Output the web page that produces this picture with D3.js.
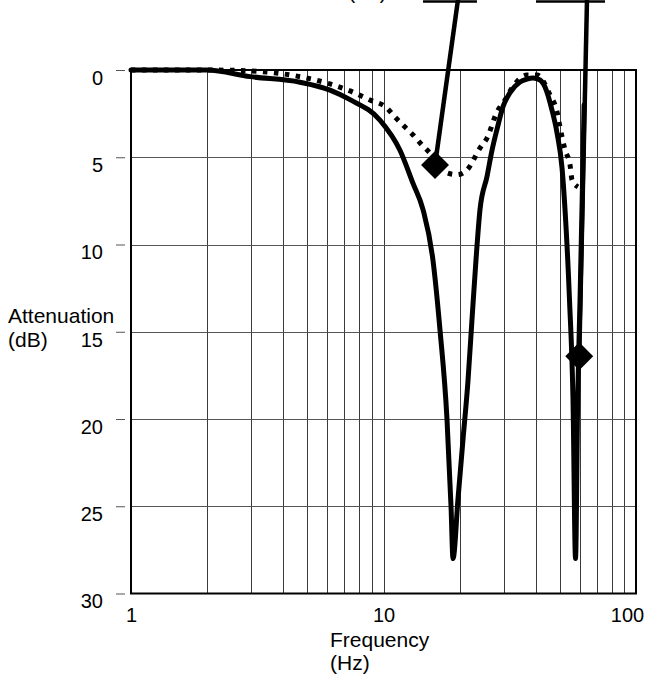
<!DOCTYPE html>
<html>
<head>
<meta charset="utf-8">
<script src="https://cdnjs.cloudflare.com/ajax/libs/d3/7.8.5/d3.min.js"></script>
<style>
  html, body { margin: 0; padding: 0; background: #fff; }
  svg { display: block; }
  text { font-family: 'Liberation Sans', Arial, sans-serif; fill: #000; }
</style>
</head>
<body>
<div id="canvas"></div>
<script>
// tick labels
var xTicks = [1, 10, 100]
var yTicks = [0, 5, 10, 15, 20, 25, 30]

// solid curve (Hz, dB)
var freqSolid = [1, 2, 2.96, 4.67, 6.14, 7.37, 9.68, 11.62, 13.09, 14.34, 15.7, 16.74, 17.84, 18.51, 18.85,
  19.72, 20.64, 21.61, 22.41, 23.24, 24.11, 25.7, 26.9, 28.15, 29.74, 31.7, 34.72, 37.02, 39.09, 41.67,
  43.61, 46.49, 48.66, 50.93, 52.35, 54.54, 56.3, 57.61, 58.75, 60.02, 61.2, 62.3]
var dbSolid = [0, 0, 0.38, 0.7, 1.15, 1.7, 2.87, 4.6, 6.5, 8.0, 10.9, 14.9, 20, 25, 28.0,
  24.6, 21.2, 17.8, 14.3, 10.9, 8.0, 6.1, 4.6, 3.4, 2.1, 1.3, 0.69, 0.52, 0.46, 0.57,
  0.97, 2.3, 3.6, 5.6, 8.0, 13.2, 18.9, 28.0, 18.9, 13.2, 7.5, 2.0]

// dotted curve (Hz, dB)
var freqDotted = [1, 2, 2.96, 4.38, 6.14, 7.37, 8.84, 10.32, 11.11, 12.17, 13.09, 14.21, 15.28, 17.52, 19.55,
  21.41, 24.11, 25.7, 28.15, 30.28, 32.28, 37.02, 40.55, 45.65, 48.66, 50.0, 52.35, 54.79, 55.8, 58.93]
var dbDotted = [0, 0, 0.05, 0.31, 0.8, 1.2, 1.72, 2.18, 2.7, 3.27, 3.72, 4.3, 4.76, 5.85, 6.0,
  5.73, 4.47, 3.9, 2.4, 1.72, 1.03, 0.29, 0.29, 1.43, 2.4, 3.27, 4.58, 5.44, 6.3, 6.7]

// diamond markers and their leader lines up to the (cut off) labels
var markerFreq = [16.0, 59.6]
var markerDb = [5.44, 16.4]
var leaderTopFreq = [19.8, 64.0]
var leaderTopDb = [-4.2, -4.2]
var underlineFrom = [14.34, 40.18]
var underlineTo = [23.45, 75.4]
var underlineDb = -3.93

var width = 646, height = 679

var x = d3.scaleLog().domain([1, 100]).range([131, 636])
var y = d3.scaleLinear().domain([0, 30]).range([70, 593.5])

var svg = d3.select('#canvas').append('svg')
  .attr('width', width)
  .attr('height', height)

// grid
var gridX = x.ticks().filter(function (d) { return d > 1 && d < 100 })
svg.append('g').selectAll('line')
  .data(gridX)
  .enter().append('line')
    .attr('x1', function (d) { return Math.round(x(d)) + 0.5 })
    .attr('x2', function (d) { return Math.round(x(d)) + 0.5 })
    .attr('y1', y(0))
    .attr('y2', y(30))
    .attr('stroke', '#3a3a3a')
    .attr('stroke-width', 1)

svg.append('g').selectAll('line')
  .data(yTicks.filter(function (d) { return d > 0 && d < 30 }))
  .enter().append('line')
    .attr('x1', x(1))
    .attr('x2', x(100))
    .attr('y1', function (d) { return Math.round(y(d)) + 0.5 })
    .attr('y2', function (d) { return Math.round(y(d)) + 0.5 })
    .attr('stroke', '#555')
    .attr('stroke-width', 1)

// y axis: short dashes set off from the frame, labels hanging below them
var yAxis = svg.append('g')
  .attr('transform', 'translate(125,0)')
  .call(d3.axisLeft(y).tickValues(yTicks).tickSize(9).tickPadding(13))
yAxis.select('.domain').remove()
yAxis.selectAll('.tick line').attr('stroke', '#555')
yAxis.selectAll('.tick text')
  .attr('dy', '0.72em')
  .attr('font-size', 20)
  .attr('font-family', "'Liberation Sans', Arial, sans-serif")

// x axis
var xAxis = svg.append('g')
  .attr('transform', 'translate(0,' + y(30) + ')')
  .call(d3.axisBottom(x).tickValues(xTicks).tickFormat(d3.format('d')).tickSize(0).tickPadding(14))
xAxis.select('.domain').remove()
xAxis.selectAll('.tick text')
  .attr('font-size', 20)
  .attr('font-family', "'Liberation Sans', Arial, sans-serif")
  .attr('dx', function (d) { return d === 100 ? -9 : 0 })

// frame
svg.append('rect')
  .attr('x', x(1))
  .attr('y', y(0))
  .attr('width', x(100) - x(1))
  .attr('height', y(30) - y(0))
  .attr('fill', 'none')
  .attr('stroke', '#000')
  .attr('stroke-width', 2)

// curves
var line = d3.line()
  .curve(d3.curveMonotoneX)
  .x(function (d) { return x(d[0]) })
  .y(function (d) { return y(d[1]) })

var solid = d3.zip(freqSolid, dbSolid)
var dotted = d3.zip(freqDotted, dbDotted)

svg.append('path')
  .datum(dotted)
  .attr('d', line)
  .attr('fill', 'none')
  .attr('stroke', '#000')
  .attr('stroke-width', 5)
  .attr('stroke-dasharray', '4.5,6.5')

svg.append('path')
  .datum(solid)
  .attr('d', line)
  .attr('fill', 'none')
  .attr('stroke', '#000')
  .attr('stroke-width', 5)
  .attr('stroke-linejoin', 'round')
  .attr('stroke-linecap', 'round')

// leaders
svg.append('g').selectAll('line')
  .data(d3.range(markerFreq.length))
  .enter().append('line')
    .attr('x1', function (i) { return x(markerFreq[i]) })
    .attr('y1', function (i) { return y(markerDb[i]) })
    .attr('x2', function (i) { return x(leaderTopFreq[i]) })
    .attr('y2', function (i) { return y(leaderTopDb[i]) })
    .attr('stroke', '#000')
    .attr('stroke-width', 4.5)

svg.append('g').selectAll('line')
  .data(d3.range(underlineFrom.length))
  .enter().append('line')
    .attr('x1', function (i) { return x(underlineFrom[i]) })
    .attr('x2', function (i) { return x(underlineTo[i]) })
    .attr('y1', y(underlineDb))
    .attr('y2', y(underlineDb))
    .attr('stroke', '#000')
    .attr('stroke-width', 2.5)

// diamonds
svg.append('g').selectAll('path')
  .data(d3.range(markerFreq.length))
  .enter().append('path')
    .attr('d', d3.symbol().type(d3.symbolSquare).size(390))
    .attr('transform', function (i) {
      return 'translate(' + x(markerFreq[i]) + ',' + y(markerDb[i]) + ') rotate(45)'
    })
    .attr('fill', '#000')

// label text above the picture, only its tail shows
svg.append('text')
  .attr('x', x(8.64))
  .attr('y', y(-4.08))
  .attr('text-anchor', 'middle')
  .attr('font-size', 20)
  .text('(dB)')

// axis titles
var yTitle = svg.append('text').attr('font-size', 21)
yTitle.append('tspan').attr('x', 8).attr('y', 323).text('Attenuation')
yTitle.append('tspan').attr('x', 8).attr('y', 347).text('(dB)')

var xTitle = svg.append('text').attr('font-size', 21)
xTitle.append('tspan').attr('x', 330).attr('y', 647).text('Frequency')
xTitle.append('tspan').attr('x', 330).attr('y', 670).text('(Hz)')
</script>
</body>
</html>
